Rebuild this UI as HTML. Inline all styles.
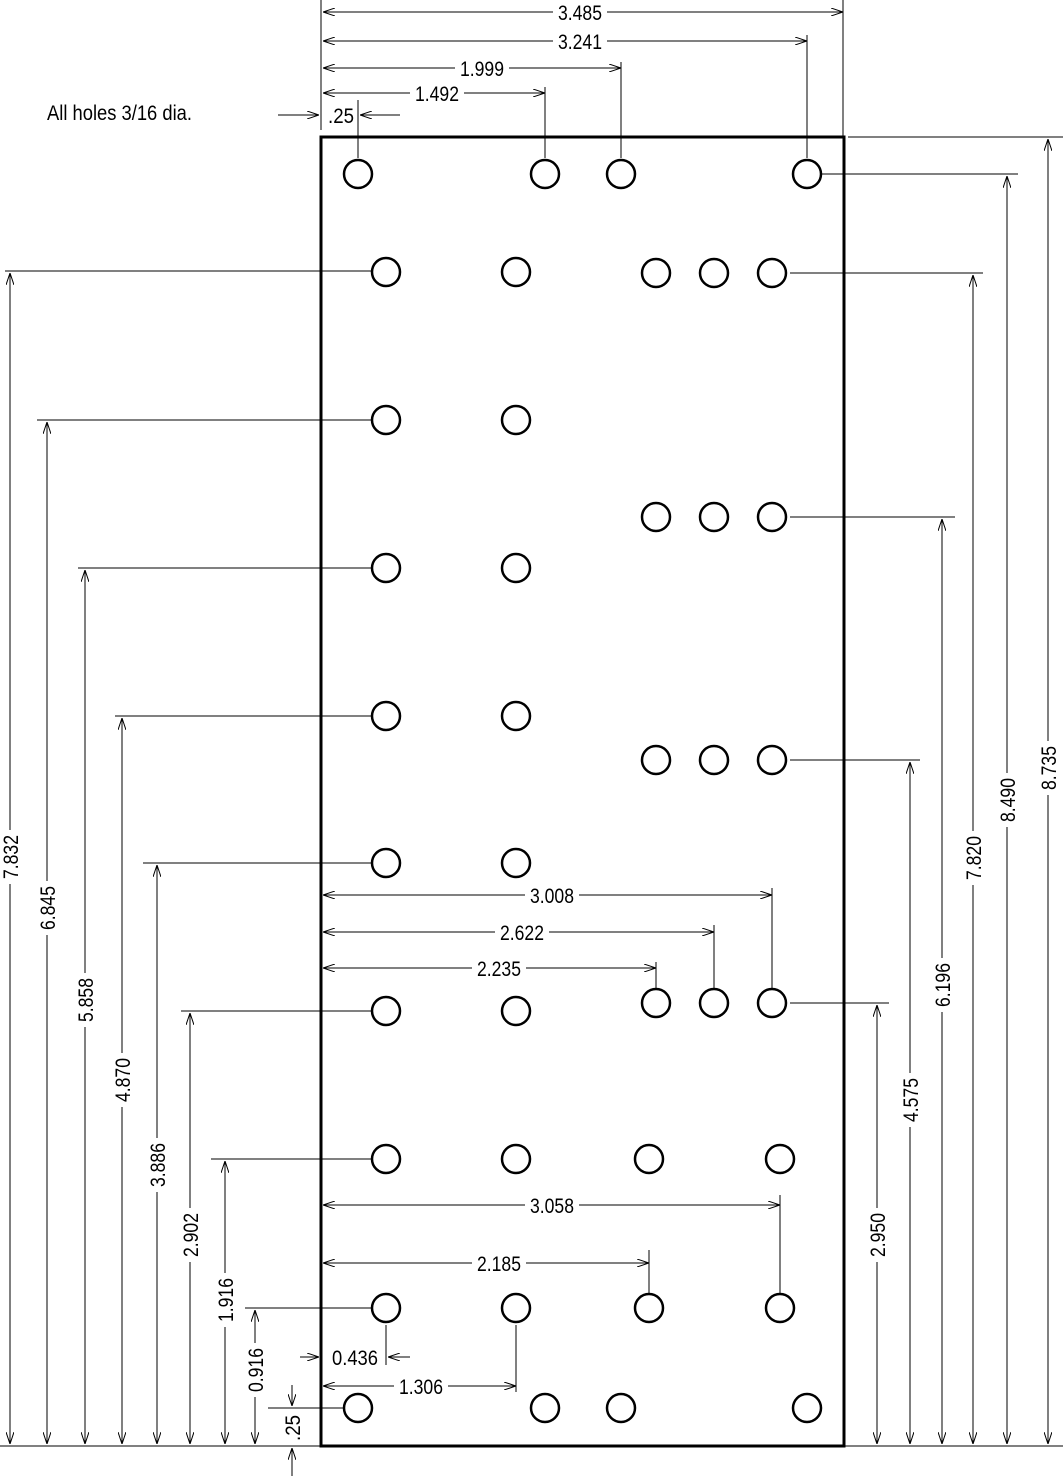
<!DOCTYPE html>
<html><head><meta charset="utf-8"><style>
html,body{margin:0;padding:0;background:#fff}
svg{display:block}
text{font-family:"Liberation Sans",sans-serif;font-size:21px;fill:#000}
</style></head><body>
<svg width="1063" height="1476" viewBox="0 0 1063 1476" xmlns="http://www.w3.org/2000/svg">
<defs>
<marker id="a" viewBox="0 0 12 8" refX="12" refY="4" markerWidth="12" markerHeight="8" markerUnits="userSpaceOnUse" orient="auto-start-reverse">
<path d="M0,0 L12,4 L0,8" fill="none" stroke="#000" stroke-width="1"/>
</marker>
</defs>
<g stroke="#000" stroke-width="1" fill="none">
<rect x="321" y="137" width="523" height="1309" stroke-width="3"/>
<line x1="0" y1="1446" x2="1063" y2="1446"/>
<line x1="321" y1="0" x2="321" y2="130"/>
<line x1="843" y1="0" x2="843" y2="137"/>
<line x1="807" y1="35" x2="807" y2="158"/>
<line x1="621" y1="62" x2="621" y2="158"/>
<line x1="545" y1="87" x2="545" y2="158"/>
<line x1="358" y1="100" x2="358" y2="158"/>
<line x1="323" y1="12" x2="843" y2="12" marker-start="url(#a)" marker-end="url(#a)"/>
<line x1="323" y1="41" x2="807" y2="41" marker-start="url(#a)" marker-end="url(#a)"/>
<line x1="323" y1="68" x2="621" y2="68" marker-start="url(#a)" marker-end="url(#a)"/>
<line x1="323" y1="93" x2="545" y2="93" marker-start="url(#a)" marker-end="url(#a)"/>
<line x1="278" y1="115" x2="319" y2="115" marker-end="url(#a)"/>
<line x1="400" y1="115" x2="360" y2="115" marker-end="url(#a)"/>
<line x1="5" y1="271" x2="372" y2="271"/>
<line x1="37" y1="420" x2="372" y2="420"/>
<line x1="78" y1="568" x2="372" y2="568"/>
<line x1="115" y1="716" x2="372" y2="716"/>
<line x1="143" y1="863" x2="372" y2="863"/>
<line x1="181" y1="1011" x2="372" y2="1011"/>
<line x1="211" y1="1159" x2="372" y2="1159"/>
<line x1="245" y1="1308" x2="372" y2="1308"/>
<line x1="268" y1="1408" x2="344" y2="1408"/>
<line x1="10" y1="273" x2="10" y2="1444" marker-start="url(#a)" marker-end="url(#a)"/>
<line x1="47" y1="422" x2="47" y2="1444" marker-start="url(#a)" marker-end="url(#a)"/>
<line x1="85" y1="570" x2="85" y2="1444" marker-start="url(#a)" marker-end="url(#a)"/>
<line x1="122" y1="718" x2="122" y2="1444" marker-start="url(#a)" marker-end="url(#a)"/>
<line x1="157" y1="865" x2="157" y2="1444" marker-start="url(#a)" marker-end="url(#a)"/>
<line x1="190" y1="1013" x2="190" y2="1444" marker-start="url(#a)" marker-end="url(#a)"/>
<line x1="225" y1="1161" x2="225" y2="1444" marker-start="url(#a)" marker-end="url(#a)"/>
<line x1="255" y1="1310" x2="255" y2="1444" marker-start="url(#a)" marker-end="url(#a)"/>
<line x1="292" y1="1385" x2="292" y2="1406" marker-end="url(#a)"/>
<line x1="292" y1="1476" x2="292" y2="1448" marker-end="url(#a)"/>
<line x1="848" y1="137" x2="1063" y2="137"/>
<line x1="808" y1="174" x2="1018" y2="174"/>
<line x1="790" y1="273" x2="983" y2="273"/>
<line x1="790" y1="517" x2="955" y2="517"/>
<line x1="790" y1="760" x2="920" y2="760"/>
<line x1="790" y1="1003" x2="889" y2="1003"/>
<line x1="1048" y1="139" x2="1048" y2="1444" marker-start="url(#a)" marker-end="url(#a)"/>
<line x1="1007" y1="176" x2="1007" y2="1444" marker-start="url(#a)" marker-end="url(#a)"/>
<line x1="973" y1="275" x2="973" y2="1444" marker-start="url(#a)" marker-end="url(#a)"/>
<line x1="942" y1="519" x2="942" y2="1444" marker-start="url(#a)" marker-end="url(#a)"/>
<line x1="910" y1="762" x2="910" y2="1444" marker-start="url(#a)" marker-end="url(#a)"/>
<line x1="877" y1="1005" x2="877" y2="1444" marker-start="url(#a)" marker-end="url(#a)"/>
<line x1="772" y1="888" x2="772" y2="990"/>
<line x1="714" y1="925" x2="714" y2="990"/>
<line x1="656" y1="962" x2="656" y2="988"/>
<line x1="780" y1="1195" x2="780" y2="1295"/>
<line x1="649" y1="1250" x2="649" y2="1295"/>
<line x1="516" y1="1325" x2="516" y2="1392"/>
<line x1="386" y1="1325" x2="386" y2="1365"/>
<line x1="323" y1="895" x2="772" y2="895" marker-start="url(#a)" marker-end="url(#a)"/>
<line x1="323" y1="932" x2="714" y2="932" marker-start="url(#a)" marker-end="url(#a)"/>
<line x1="323" y1="968" x2="656" y2="968" marker-start="url(#a)" marker-end="url(#a)"/>
<line x1="323" y1="1205" x2="780" y2="1205" marker-start="url(#a)" marker-end="url(#a)"/>
<line x1="323" y1="1263" x2="649" y2="1263" marker-start="url(#a)" marker-end="url(#a)"/>
<line x1="323" y1="1386" x2="516" y2="1386" marker-start="url(#a)" marker-end="url(#a)"/>
<line x1="300" y1="1357" x2="319" y2="1357" marker-end="url(#a)"/>
<line x1="410" y1="1357" x2="388" y2="1357" marker-end="url(#a)"/>
</g>
<g stroke="#000" stroke-width="2.5" fill="#fff">
<circle cx="358" cy="174" r="14"/><circle cx="545" cy="174" r="14"/><circle cx="621" cy="174" r="14"/><circle cx="807" cy="174" r="14"/>
<circle cx="386" cy="272" r="14"/><circle cx="516" cy="272" r="14"/><circle cx="656" cy="273" r="14"/><circle cx="714" cy="273" r="14"/><circle cx="772" cy="273" r="14"/>
<circle cx="386" cy="420" r="14"/><circle cx="516" cy="420" r="14"/>
<circle cx="656" cy="517" r="14"/><circle cx="714" cy="517" r="14"/><circle cx="772" cy="517" r="14"/>
<circle cx="386" cy="568" r="14"/><circle cx="516" cy="568" r="14"/>
<circle cx="386" cy="716" r="14"/><circle cx="516" cy="716" r="14"/>
<circle cx="656" cy="760" r="14"/><circle cx="714" cy="760" r="14"/><circle cx="772" cy="760" r="14"/>
<circle cx="386" cy="863" r="14"/><circle cx="516" cy="863" r="14"/>
<circle cx="656" cy="1003" r="14"/><circle cx="714" cy="1003" r="14"/><circle cx="772" cy="1003" r="14"/>
<circle cx="386" cy="1011" r="14"/><circle cx="516" cy="1011" r="14"/>
<circle cx="386" cy="1159" r="14"/><circle cx="516" cy="1159" r="14"/><circle cx="649" cy="1159" r="14"/><circle cx="780" cy="1159" r="14"/>
<circle cx="386" cy="1308" r="14"/><circle cx="516" cy="1308" r="14"/><circle cx="649" cy="1308" r="14"/><circle cx="780" cy="1308" r="14"/>
<circle cx="358" cy="1408" r="14"/><circle cx="545" cy="1408" r="14"/><circle cx="621" cy="1408" r="14"/><circle cx="807" cy="1408" r="14"/>
</g>
<g fill="#fff">
<rect x="553" y="2" width="54" height="22"/>
<rect x="553" y="30" width="54" height="22"/>
<rect x="455" y="57" width="54" height="22"/>
<rect x="410" y="82" width="54" height="22"/>
<rect x="525" y="884" width="54" height="22"/>
<rect x="495" y="921" width="54" height="22"/>
<rect x="472" y="957" width="54" height="22"/>
<rect x="525" y="1194" width="54" height="22"/>
<rect x="472" y="1252" width="54" height="22"/>
<rect x="394" y="1375" width="54" height="22"/>
<rect x="0" y="830" width="20" height="54"/>
<rect x="37" y="881" width="20" height="54"/>
<rect x="75" y="973" width="20" height="54"/>
<rect x="112" y="1053" width="20" height="54"/>
<rect x="147" y="1138" width="20" height="54"/>
<rect x="180" y="1208" width="20" height="54"/>
<rect x="215" y="1273" width="20" height="54"/>
<rect x="245" y="1343" width="20" height="54"/>
<rect x="1038" y="741" width="20" height="54"/>
<rect x="997" y="773" width="20" height="54"/>
<rect x="963" y="831" width="20" height="54"/>
<rect x="932" y="958" width="20" height="54"/>
<rect x="900" y="1073" width="20" height="54"/>
<rect x="867" y="1208" width="20" height="54"/>
</g>
<g text-anchor="middle">
<text x="580" y="20" textLength="44" lengthAdjust="spacingAndGlyphs">3.485</text>
<text x="580" y="49" textLength="44" lengthAdjust="spacingAndGlyphs">3.241</text>
<text x="482" y="76" textLength="44" lengthAdjust="spacingAndGlyphs">1.999</text>
<text x="437" y="101" textLength="44" lengthAdjust="spacingAndGlyphs">1.492</text>
<text x="341" y="123" textLength="26" lengthAdjust="spacingAndGlyphs">.25</text>
<text x="552" y="903" textLength="44" lengthAdjust="spacingAndGlyphs">3.008</text>
<text x="522" y="940" textLength="44" lengthAdjust="spacingAndGlyphs">2.622</text>
<text x="499" y="976" textLength="44" lengthAdjust="spacingAndGlyphs">2.235</text>
<text x="552" y="1213" textLength="44" lengthAdjust="spacingAndGlyphs">3.058</text>
<text x="499" y="1271" textLength="44" lengthAdjust="spacingAndGlyphs">2.185</text>
<text x="421" y="1394" textLength="44" lengthAdjust="spacingAndGlyphs">1.306</text>
<text x="355" y="1365" textLength="46" lengthAdjust="spacingAndGlyphs">0.436</text>
</g>
<text x="47" y="120" textLength="145" lengthAdjust="spacingAndGlyphs">All holes 3/16 dia.</text>
<g text-anchor="middle">
<text transform="translate(18,857) rotate(-90)" textLength="44" lengthAdjust="spacingAndGlyphs">7.832</text>
<text transform="translate(55,908) rotate(-90)" textLength="44" lengthAdjust="spacingAndGlyphs">6.845</text>
<text transform="translate(93,1000) rotate(-90)" textLength="44" lengthAdjust="spacingAndGlyphs">5.858</text>
<text transform="translate(130,1080) rotate(-90)" textLength="44" lengthAdjust="spacingAndGlyphs">4.870</text>
<text transform="translate(165,1165) rotate(-90)" textLength="44" lengthAdjust="spacingAndGlyphs">3.886</text>
<text transform="translate(198,1235) rotate(-90)" textLength="44" lengthAdjust="spacingAndGlyphs">2.902</text>
<text transform="translate(233,1300) rotate(-90)" textLength="44" lengthAdjust="spacingAndGlyphs">1.916</text>
<text transform="translate(263,1370) rotate(-90)" textLength="44" lengthAdjust="spacingAndGlyphs">0.916</text>
<text transform="translate(300,1428) rotate(-90)" textLength="26" lengthAdjust="spacingAndGlyphs">.25</text>
<text transform="translate(1056,768) rotate(-90)" textLength="44" lengthAdjust="spacingAndGlyphs">8.735</text>
<text transform="translate(1015,800) rotate(-90)" textLength="44" lengthAdjust="spacingAndGlyphs">8.490</text>
<text transform="translate(981,858) rotate(-90)" textLength="44" lengthAdjust="spacingAndGlyphs">7.820</text>
<text transform="translate(950,985) rotate(-90)" textLength="44" lengthAdjust="spacingAndGlyphs">6.196</text>
<text transform="translate(918,1100) rotate(-90)" textLength="44" lengthAdjust="spacingAndGlyphs">4.575</text>
<text transform="translate(885,1235) rotate(-90)" textLength="44" lengthAdjust="spacingAndGlyphs">2.950</text>
</g>
</svg>
</body></html>
